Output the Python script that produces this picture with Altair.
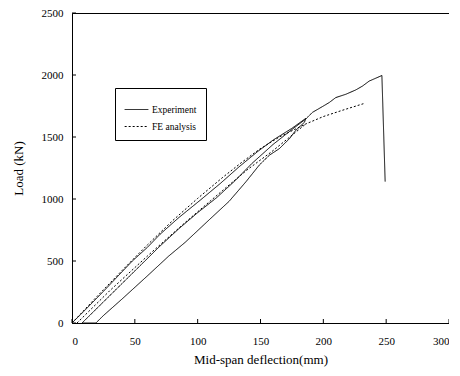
import altair as alt
import pandas as pd

# Experiment: initial loading, unloading, flat, reloading, peak, drop
exp_x = [0, 10, 25, 48, 60, 70, 85, 102, 118, 133, 148, 160, 175, 186,
         185, 178, 173, 165, 157, 149, 138.5, 125, 110, 90, 77, 60, 40, 25, 19,
         8, 15, 30, 45, 57, 70, 85, 100, 115, 130, 143, 160, 175, 186,
         191.4, 199.4, 204.7, 209.9, 218, 225.9, 231.2, 236.5, 244.4, 246.6, 249.2]
exp_y = [0, 100, 255, 500, 610, 715, 850, 990, 1125, 1260, 1385, 1475, 1570, 1650,
         1619, 1553, 1486, 1406, 1353, 1273, 1140, 981, 840, 650, 540, 380, 195, 60, 0,
         0, 70, 220, 370, 490, 620, 760, 890, 1010, 1150, 1285, 1440, 1560, 1645,
         1699, 1746, 1778, 1818, 1845, 1880, 1911, 1951, 1986, 1996, 1140]

# FE analysis
fe1_x = [0, 20, 40, 60, 80, 100, 120, 135, 149, 165, 186, 200, 215, 233]
fe1_y = [0, 215, 425, 630, 825, 1005, 1175, 1295, 1400, 1500, 1605, 1665, 1715, 1772]
fe2_x = [4, 30, 60, 90, 120, 140, 160, 186]
fe2_y = [0, 260, 540, 810, 1070, 1240, 1390, 1605]

x_ticks = [0, 50, 100, 150, 200, 250, 300]
y_ticks = [0, 500, 1000, 1500, 2000, 2500]
series_names = ["Experiment", "FE analysis"]

rows = []
for i, (a, b) in enumerate(zip(exp_x, exp_y)):
    rows.append({"x": a, "y": b, "series": series_names[0], "seg": "e", "ord": i})
for i, (a, b) in enumerate(zip(fe1_x, fe1_y)):
    rows.append({"x": a, "y": b, "series": series_names[1], "seg": "f1", "ord": i})
for i, (a, b) in enumerate(zip(fe2_x, fe2_y)):
    rows.append({"x": a, "y": b, "series": series_names[1], "seg": "f2", "ord": i})
df = pd.DataFrame(rows)

W, H = 377, 310
FONT = "Liberation Serif"

xs = alt.Scale(domain=[0, 300], nice=False)
ys = alt.Scale(domain=[0, 2500], nice=False)

lines = alt.Chart(df).mark_line(color="black", strokeWidth=1, clip=True).encode(
    x=alt.X("x:Q", scale=xs,
            axis=alt.Axis(values=x_ticks, title="Mid-span deflection(mm)", ticks=False,
                          format="d", labelPadding=12, titlePadding=7, grid=False)),
    y=alt.Y("y:Q", scale=ys,
            axis=alt.Axis(values=y_ticks, title="Load (kN)", ticks=False, format="d",
                          labelPadding=9, titlePadding=16, grid=False)),
    strokeDash=alt.StrokeDash("series:N",
        scale=alt.Scale(domain=series_names, range=[[1, 0], [2, 2]]),
        legend=alt.Legend(title=None, orient="none", legendX=43, legendY=75,
                          symbolType="stroke", symbolSize=560, symbolStrokeWidth=1,
                          symbolStrokeColor="black", labelFont=FONT, labelFontSize=9.5,
                          labelColor="black", strokeColor="black", fillColor="white",
                          padding=9, rowPadding=0, labelOffset=3)),
    detail="seg:N",
    order="ord:Q",
)

xt = pd.DataFrame({"v": x_ticks})
yt = pd.DataFrame({"v": y_ticks})
xtick = alt.Chart(xt).mark_rule(color="black", strokeWidth=1).encode(
    x=alt.X("v:Q", scale=xs), y=alt.value(H), y2=alt.value(H - 4))
ytick = alt.Chart(yt).mark_rule(color="black", strokeWidth=1).encode(
    y=alt.Y("v:Q", scale=ys), x=alt.value(0), x2=alt.value(4))

chart = alt.layer(lines, xtick, ytick).properties(
    width=W, height=H,
    autosize=alt.AutoSizeParams(type="none"),
    padding={"left": 64, "top": 5, "right": 0, "bottom": 45},
).configure_view(stroke="black", strokeWidth=1).configure_axis(
    labelFont=FONT, titleFont=FONT, labelFontSize=11, titleFontSize=13,
    titleFontWeight="normal", labelColor="black", titleColor="black",
    domainColor="black", domainWidth=1,
)

chart.save("out.html", embed_options={"renderer": "svg", "actions": False})
